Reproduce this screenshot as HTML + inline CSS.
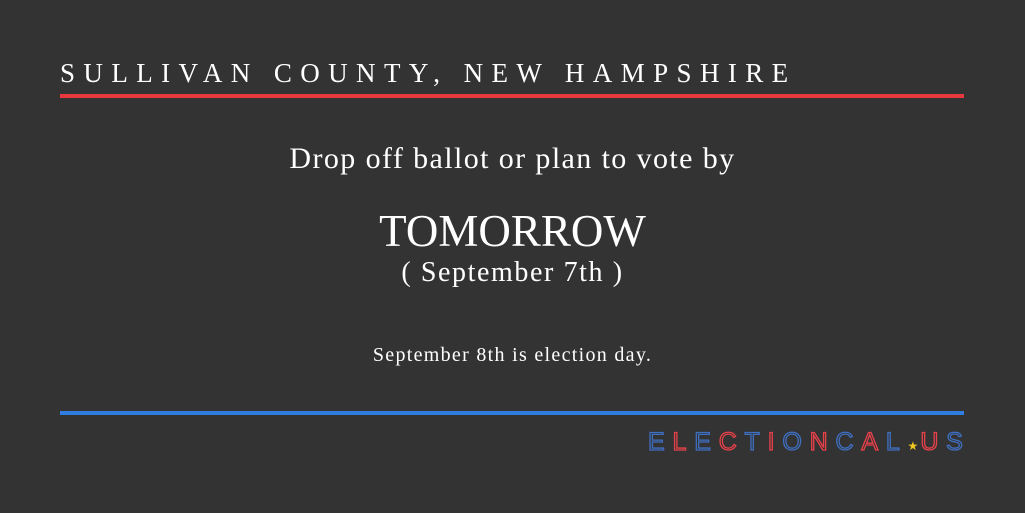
<!DOCTYPE html>
<html><head><meta charset="utf-8"><style>
body{margin:0;width:1025px;height:513px;background:#333333;overflow:hidden;position:relative;font-family:"Liberation Serif",serif;color:#fff}
.a{position:absolute}
#t{left:60px;top:58px;font-size:27px;letter-spacing:8.4px;white-space:nowrap}
.line{left:60px;width:904px;height:4px}
.c{left:0;width:1025px;text-align:center;white-space:nowrap}
#logo{left:648px;top:428px;font-family:"Liberation Sans",sans-serif;font-size:25px;letter-spacing:7.8px;white-space:nowrap}
#logo span.r{color:transparent;-webkit-text-stroke:1.3px #e8414a}
#logo span.b{color:transparent;-webkit-text-stroke:1.3px #3f6fc0}
</style></head><body>
<div class="a" id="t">SULLIVAN COUNTY, NEW HAMPSHIRE</div>
<div class="a line" style="top:94px;background:#e8383d"></div>
<div class="a c" style="top:142px;font-size:30px;letter-spacing:1.4px">Drop off ballot or plan to vote by</div>
<div class="a c" style="top:205px;font-size:45px">TOMORROW</div>
<div class="a c" style="top:257px;font-size:28px;letter-spacing:1.6px">( September 7th )</div>
<div class="a c" style="top:344px;font-size:20px;letter-spacing:1.3px">September 8th is election day.</div>
<div class="a line" style="top:411px;background:#2f7de0"></div>
<div class="a" id="logo"><span class="b">E</span><span class="r">L</span><span class="b">E</span><span class="r">C</span><span class="b">T</span><span class="r">I</span><span class="b">O</span><span class="r">N</span><span class="b">C</span><span class="r">A</span><span class="b">L</span><span style="color:#f2c81e;font-size:12px;letter-spacing:2px">★</span><span class="r">U</span><span class="b">S</span></div>
</body></html>
